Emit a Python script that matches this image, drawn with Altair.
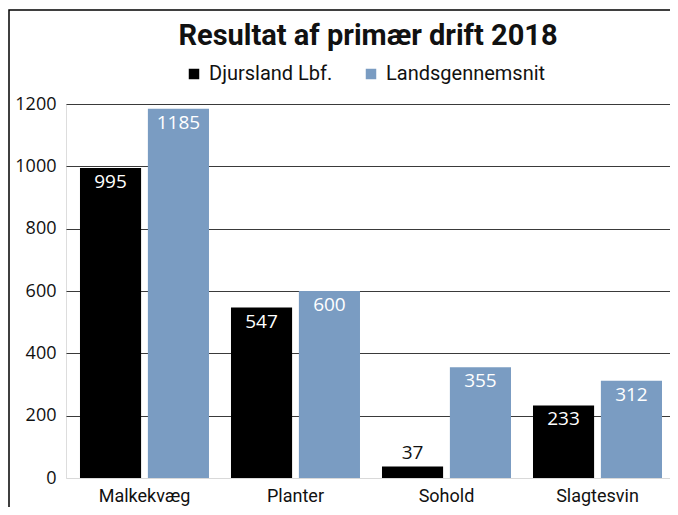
import altair as alt
import pandas as pd

categories = ["Malkekvæg", "Planter", "Sohold", "Slagtesvin"]
series = ["Djursland Lbf.", "Landsgennemsnit"]
djursland = [995, 547, 37, 233]
landsgennemsnit = [1185, 600, 355, 312]

rows = []
for c, d, l in zip(categories, djursland, landsgennemsnit):
    rows.append({"kategori": c, "serie": series[0], "værdi": d})
    rows.append({"kategori": c, "serie": series[1], "værdi": l})
df = pd.DataFrame(rows)

FONT = "Open Sans"
LBL = "Roboto"

x_enc = alt.X("kategori:N", sort=categories, title=None,
              scale=alt.Scale(paddingInner=0.1457, paddingOuter=0.0728, align=0.636),
              axis=alt.Axis(labelAngle=0, domain=False, ticks=False, labelPadding=9,
                            labelFontSize=18, labelFont=LBL, labelColor="#111"))
xoff = alt.XOffset("serie:N", sort=series,
                   scale=alt.Scale(paddingInner=0.1, paddingOuter=0))

base = alt.Chart(df)

bars = base.mark_bar().encode(
    x=x_enc,
    xOffset=xoff,
    y=alt.Y("værdi:Q", title=None,
            scale=alt.Scale(domain=[0, 1200], nice=False),
            axis=alt.Axis(values=[0, 200, 400, 600, 800, 1000, 1200], domain=False, ticks=False,
                          format="d",
                          labelPadding=10, labelFontSize=18, labelFont=FONT, labelColor="#111",
                          gridColor={"condition": {"test": "datum.value === 0", "value": "#d9d9d9"},
                                     "value": "#3a3a3a"},
                          gridWidth=1.2)),
    color=alt.Color("serie:N", sort=series, title=None,
                    scale=alt.Scale(domain=series, range=["#000000", "#7a9cc2"]),
                    legend=alt.Legend(orient="none", legendX=118, legendY=-40, direction="horizontal",
                                      symbolType="square", symbolSize=110, symbolStrokeWidth=0,
                                      symbolOpacity=1,
                                      labelFont=LBL, labelFontSize=20, labelColor="#111",
                                      columnPadding=28, labelOffset=5)),
)

inside = base.transform_filter("datum['værdi'] >= 100").mark_text(
    baseline="top", dy=5, fontSize=19, font=FONT, color="white").encode(
    x=alt.X("kategori:N", sort=categories), xOffset=xoff,
    y="værdi:Q", text="værdi:Q")

above = base.transform_filter("datum['værdi'] < 100").mark_text(
    baseline="bottom", dy=-3, fontSize=19, font=FONT, color="#111").encode(
    x=alt.X("kategori:N", sort=categories), xOffset=xoff,
    y="værdi:Q", text="værdi:Q")

frame_df = pd.DataFrame({"k": [0]})
frame = alt.Chart(frame_df).mark_rect(fill=None, filled=False, stroke="#000", strokeWidth=1.5).encode(
    x=alt.value(-57), x2=alt.value(720), y=alt.value(-94), y2=alt.value(460))

chart = alt.layer(bars, inside, above, frame).properties(
    width=604, height=374,
    title=alt.TitleParams("Resultat af primær drift 2018", font=LBL, fontSize=29,
                          fontWeight="bold", color="#111", anchor="middle", offset=0, dy=42),
    autosize=alt.AutoSizeParams(type="none"),
    padding={"left": 58, "top": 96, "right": 0, "bottom": 29},
).configure_view(stroke=None).configure(background="white")

chart.save("out.html", embed_options={"renderer": "svg", "actions": False})
